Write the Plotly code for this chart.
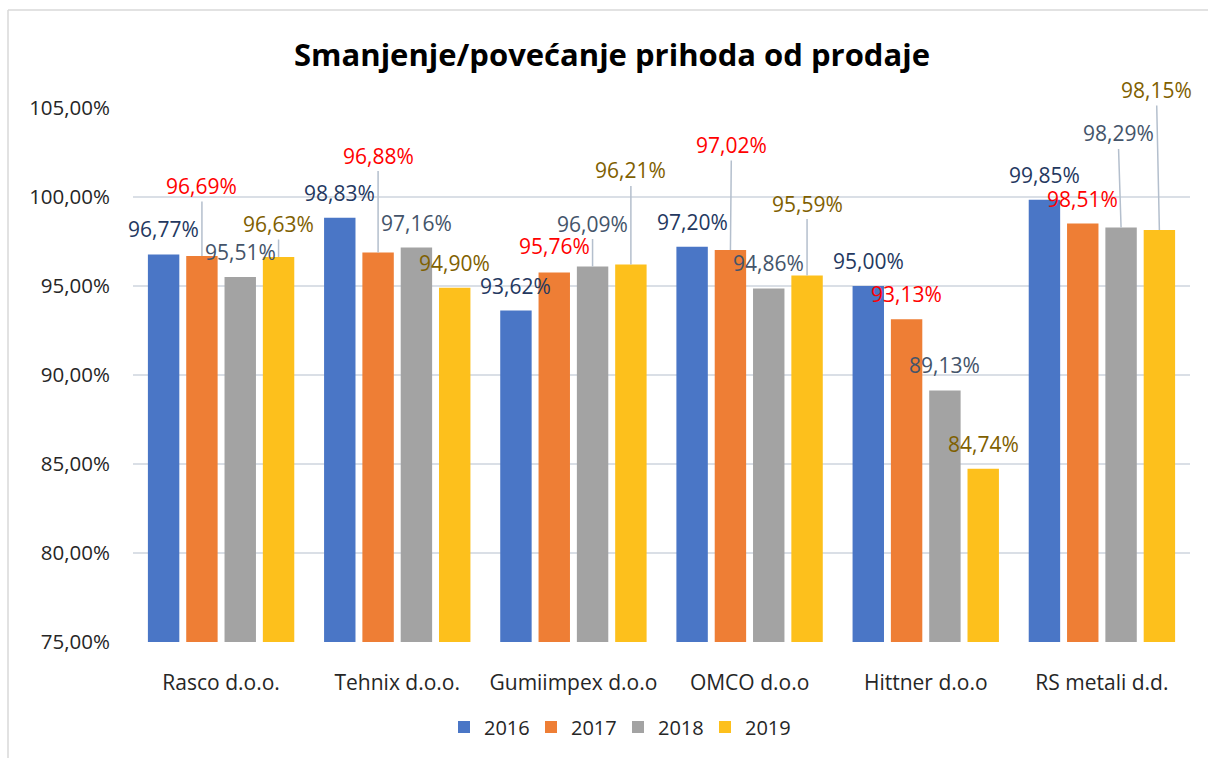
import plotly.graph_objects as go

categories = ["Rasco d.o.o.", "Tehnix d.o.o.", "Gumiimpex d.o.o", "OMCO d.o.o", "Hittner d.o.o", "RS metali d.d."]
years = ["2016", "2017", "2018", "2019"]
v2016 = [96.77, 98.83, 93.62, 97.20, 95.00, 99.85]
v2017 = [96.69, 96.88, 95.76, 97.02, 93.13, 98.51]
v2018 = [95.51, 97.16, 96.09, 94.86, 89.13, 98.29]
v2019 = [96.63, 94.90, 96.21, 95.59, 84.74, 98.15]
y_ticks = [75, 80, 85, 90, 95, 100, 105]

series = [v2016, v2017, v2018, v2019]
bar_colors = ["#4A76C6", "#EE7E35", "#A3A3A3", "#FDC01C"]
label_colors = ["#24385F", "#FF0000", "#44546A", "#7F6000"]

# label offsets in pixels (styling), per series per category
label_offsets = [
    [(0, -25), (0, -25), (0, -25), (0, -25), (0, -25), (0, -25)],
    [(0, -70), (0, -97), (0, -26), (1, -105), (0, -25), (0, -25)],
    [(0, -25), (0, -25), (0, -43), (0, -25), (0, -25), (-3, -94)],
    [(0, -33), (0, -25), (0, -94), (0, -72), (0, -25), (-3, -140)],
]

bargap = 0.13
bargroupgap = 0.18
font = "Open Sans"


def fmt(v):
    return f"{v:.2f}".replace(".", ",") + "%"


fig = go.Figure()
for yr, vals, col in zip(years, series, bar_colors):
    fig.add_trace(go.Bar(name=yr, x=list(range(len(categories))), y=vals,
                         marker=dict(color=col, line=dict(width=0)),
                         hoverinfo="skip"))

slot = (1 - bargap) / len(years)
annotations = []
for si, vals in enumerate(series):
    for ci, v in enumerate(vals):
        dx, dy = label_offsets[si][ci]
        xpos = ci + (si - (len(years) - 1) / 2) * slot
        leader = abs(dy) > 30
        annotations.append(dict(
            x=xpos, y=v, xref="x", yref="y", text=fmt(v),
            showarrow=True, ax=dx, ay=dy, arrowhead=0, standoff=0,
            arrowwidth=1.5,
            arrowcolor="#B4BFCD" if leader else "rgba(0,0,0,0)",
            font=dict(family=font, size=21, color=label_colors[si]),
        ))

W, H = 1208, 758
L, R, T, B = 133, 18, 108, 116
PW, PH = W - L - R, H - T - B
fig.update_layout(
    width=W, height=H,
    margin=dict(l=L, r=R, t=T, b=B),
    paper_bgcolor="white", plot_bgcolor="white",
    separators=", ",
    barmode="group", bargap=bargap, bargroupgap=bargroupgap,
    title=dict(text="<b>Smanjenje/povećanje prihoda od prodaje</b>",
               x=612 / W, xref="container", xanchor="center",
               y=1 - 55 / H, yref="container", yanchor="middle",
               font=dict(family=font, size=31, color="#000000")),
    font=dict(family=font, size=20, color="#262626"),
    legend=dict(orientation="h", x=(618 - L) / PW, xanchor="center",
                y=-(727 - (H - B)) / PH, yanchor="middle",
                font=dict(family=font, size=20, color="#262626"),
                itemwidth=30, entrywidth=42, entrywidthmode="pixels",
                traceorder="normal"),
    annotations=annotations,
    showlegend=True,
)
fig.update_xaxes(tickmode="array", tickvals=list(range(len(categories))), ticktext=categories,
                 range=[-0.5, len(categories) - 0.5], showgrid=False,
                 showline=False, ticks="", ticklabelstandoff=26,
                 tickfont=dict(family=font, size=21, color="#262626"))
fig.update_yaxes(range=[75, 105], tickmode="array", tickvals=y_ticks,
                 ticktext=[fmt(t) for t in y_ticks],
                 showgrid=True, gridcolor="#DADFE6", gridwidth=1.5,
                 zeroline=False, showline=False, ticks="", ticklabelstandoff=22,
                 tickfont=dict(family=font, size=20.5, color="#262626"))

# chart area border (left and top edges visible)
bx0 = (8 - L) / PW
by1 = ((H - B) - 10) / PH
fig.add_shape(type="line", xref="paper", yref="paper",
              x0=bx0, x1=bx0, y0=-(B + 5) / PH, y1=by1,
              line=dict(color="#D9D9D9", width=1.5), layer="below")
fig.add_shape(type="line", xref="paper", yref="paper",
              x0=bx0, x1=(W + 5 - L) / PW, y0=by1, y1=by1,
              line=dict(color="#D9D9D9", width=1.5), layer="below")

fig.write_html("out.html",
               config={"displayModeBar": False},
               post_script="document.body.style.margin='0';"
                           "document.documentElement.style.overflow='hidden';")
